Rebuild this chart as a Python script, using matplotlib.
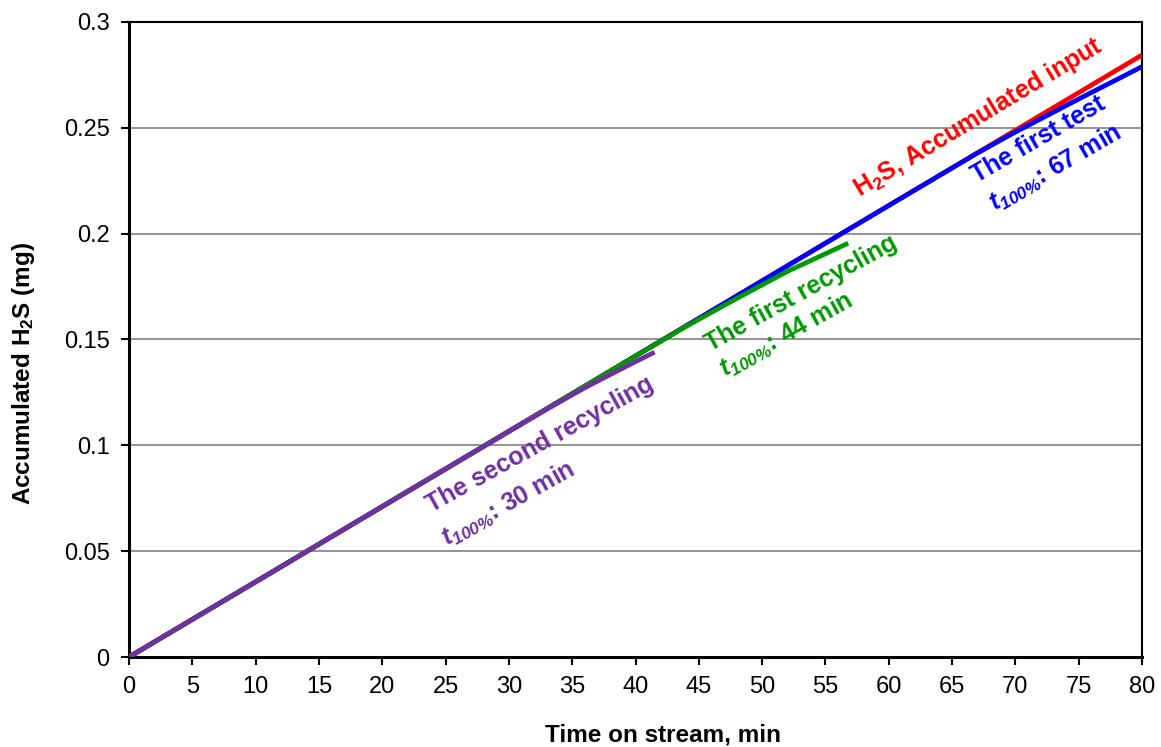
import matplotlib
matplotlib.use("Agg")
import matplotlib.pyplot as plt

plt.rcParams['font.family'] = ['Liberation Sans', 'DejaVu Sans']
plt.rcParams['mathtext.fontset'] = 'custom'
plt.rcParams['mathtext.rm'] = 'Liberation Sans:bold'
plt.rcParams['mathtext.bf'] = 'Liberation Sans:bold'
plt.rcParams['mathtext.it'] = 'Liberation Sans:italic:bold'
plt.rcParams['mathtext.sf'] = 'Liberation Sans:italic:bold'

# ---- data ----
time_input = [0, 80]
h2s_input = [0, 0.2844]

time_first_test = [0, 10, 20, 30, 40, 50, 60, 67, 70, 75, 80]
first_test = [0, 0.0355, 0.0711, 0.1066, 0.1422, 0.1777, 0.2133, 0.2381, 0.2480, 0.2636, 0.2789]

time_first_recycling = [0, 10, 20, 30, 40, 44, 48, 52, 56.8]
first_recycling = [0, 0.0355, 0.0711, 0.1066, 0.1422, 0.1562, 0.1694, 0.1822, 0.1955]

time_second_recycling = [0, 10, 20, 30, 33, 36, 39, 41.5]
second_recycling = [0, 0.0355, 0.0711, 0.1066, 0.1171, 0.1272, 0.1365, 0.1440]

x_ticks = [0, 5, 10, 15, 20, 25, 30, 35, 40, 45, 50, 55, 60, 65, 70, 75, 80]
y_ticks = [0, 0.05, 0.1, 0.15, 0.2, 0.25, 0.3]
y_tick_labels = ['0', '0.05', '0.1', '0.15', '0.2', '0.25', '0.3']

fig = plt.figure(figsize=(11.61, 7.47), dpi=100)
ax = fig.add_axes([129/1161, 1-657/747, (1142-129)/1161, (657-22)/747])

lw = 3.4
ax.plot(time_input, h2s_input, color='#FF0000', lw=lw, solid_capstyle='butt', zorder=3)
ax.plot(time_first_test, first_test, color='#0000FF', lw=lw, solid_capstyle='butt', zorder=4)
ax.plot(time_first_recycling, first_recycling, color='#009900', lw=lw, solid_capstyle='butt', zorder=5)
ax.plot(time_second_recycling, second_recycling, color='#7030A0', lw=lw, solid_capstyle='butt', zorder=6)

ax.set_xlim(0, 80)
ax.set_ylim(0, 0.3)
ax.set_xticks(x_ticks)
ax.set_xticklabels([str(v) for v in x_ticks])
ax.set_yticks(y_ticks)
ax.set_yticklabels(y_tick_labels)
ax.tick_params(axis='both', labelsize=17, direction='out', length=6, width=1.5, color='black')
ax.tick_params(axis='x', pad=8)
ax.tick_params(axis='y', pad=8)

ax.yaxis.grid(True, color='#808080', lw=1.2)
ax.set_axisbelow(True)
for s in ['left', 'bottom']:
    ax.spines[s].set_linewidth(2.2)
for s in ['top', 'right']:
    ax.spines[s].set_linewidth(1.5)

ax.set_xlabel('Time on stream, min', fontsize=17.5, fontweight='bold')
ax.set_ylabel(r'Accumulated H$_{2}$S (mg)', fontsize=17.5, fontweight='bold')
ax.xaxis.set_label_coords(0.527, -0.104)
ax.yaxis.set_label_coords(-0.091, 0.447)

fs = 18
sub = r'$t_{\mathsf{100\%}}$'
ax.text(57.7, 0.2173, r'H$_{2}$S, Accumulated input', color='#FF0000', fontsize=fs,
        fontweight='bold', rotation=31, rotation_mode='anchor', ha='left', va='baseline')
ax.text(67.0, 0.2239, 'The first test', color='#0000FF', fontsize=fs,
        fontweight='bold', rotation=30, rotation_mode='anchor', ha='left', va='baseline')
ax.text(68.4, 0.2102, sub + ': 67 min', color='#0000FF', fontsize=fs,
        fontweight='bold', rotation=30, rotation_mode='anchor', ha='left', va='baseline')
ax.text(45.9, 0.1441, 'The first recycling', color='#009900', fontsize=fs,
        fontweight='bold', rotation=29, rotation_mode='anchor', ha='left', va='baseline')
ax.text(47.1, 0.1318, sub + ': 44 min', color='#009900', fontsize=fs,
        fontweight='bold', rotation=29, rotation_mode='anchor', ha='left', va='baseline')
ax.text(23.9, 0.0680, 'The second recycling', color='#7030A0', fontsize=fs,
        fontweight='bold', rotation=29, rotation_mode='anchor', ha='left', va='baseline')
ax.text(25.1, 0.0524, sub + ': 30 min', color='#7030A0', fontsize=fs,
        fontweight='bold', rotation=29, rotation_mode='anchor', ha='left', va='baseline')

fig.savefig('out.png', dpi=100)
